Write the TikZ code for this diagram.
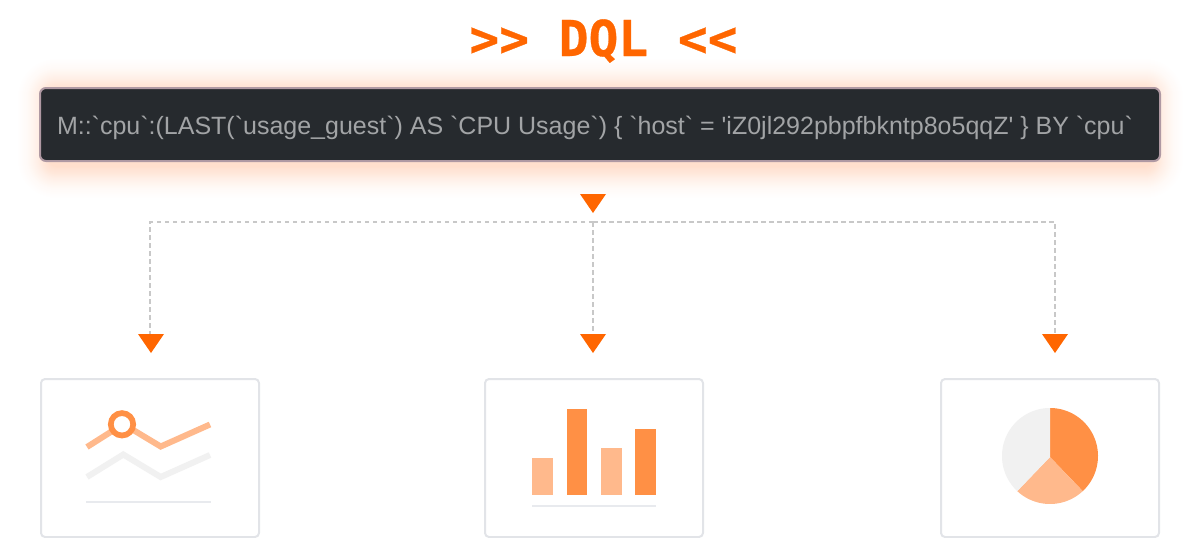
\documentclass[tikz,border=0pt]{standalone}
\usepackage{fontspec}
\newfontfamily\codefont{Liberation Sans}
\newfontfamily\titlefont{DejaVu Sans Mono Bold}[FakeBold=0.6]
\definecolor{accent}{HTML}{FF6600}
\definecolor{glowc}{HTML}{FF7A30}
\definecolor{darkbox}{HTML}{262A2E}
\definecolor{boxedge}{HTML}{AF99A3}
\definecolor{codetext}{HTML}{A2A4A6}
\definecolor{cardedge}{HTML}{E2E4E8}
\definecolor{peach}{HTML}{FFB98C}
\definecolor{strong}{HTML}{FF9045}
\definecolor{pale}{HTML}{F1F1F1}
\definecolor{axisc}{HTML}{E8EAEE}
\definecolor{dashc}{HTML}{C8C8C8}
\tikzset{
  x=1pt,y=-1pt,
  codebox/.style={draw=boxedge,fill=darkbox,line width=2pt,rounded corners=6pt,anchor=north west,
    minimum width=1120pt,minimum height=73pt,inner sep=0pt,outer sep=0pt},
  card/.style={draw=cardedge,fill=white,line width=2pt,rounded corners=4pt,anchor=north west,
    minimum width=218pt,minimum height=158pt,inner sep=0pt,outer sep=0pt},
  link/.style={draw=dashc,line width=2.3pt,dash pattern=on 4.5pt off 3.5pt},
  tip/.style={fill=accent},
  pt/.style={inner sep=0pt,outer sep=0pt,minimum size=0pt},
}
\begin{document}
\begin{tikzpicture}
\useasboundingbox (0,0) rectangle (1200,538);
% glow
\foreach \i in {36,35,...,1}{
  \fill[glowc,opacity={0.0004*(37-\i)},rounded corners={(6+\i)*1pt}]
    ({50-\i},{91-\i}) rectangle ({1151+\i},{166+\i});
}
\node[pt,anchor=base,text=accent] (title) at (603.5,56)
  {\titlefont\fontsize{49.5pt}{50pt}\selectfont >{}> DQL <{}<};
\node[codebox] (code) at (40,88) {};
\node[pt,anchor=base west,text=codetext] (codeline) at (57,134)
  {\codefont\fontsize{25pt}{30pt}\selectfont M::`cpu`:(LAST(`usage\_guest`) AS `CPU Usage`) \{ `host` = 'iZ0jl292pbpfbkntp8o5qqZ' \} BY `cpu`};
\node[card] (c1) at (41,379) {};
\node[card] (c2) at (485,379) {};
\node[card] (c3) at (941,379) {};
% connectors
\coordinate (junction) at (593,222);
\coordinate (corner1) at (150,222);
\coordinate (corner3) at (1055,222);
\coordinate (end1) at (150,340);
\coordinate (end2) at (593,340);
\coordinate (end3) at (1055,340);
\draw[link] (junction) -- (corner1) -- (end1);
\draw[link] (junction) -- (corner3) -- (end3);
\draw[link] (junction) -- (end2);
% triangles
\fill[tip] (580,194) -- (606,194) -- (593,213) -- cycle;
\fill[tip] (138,334) -- (164,334) -- (151,353) -- cycle;
\fill[tip] (580,334) -- (606,334) -- (593,353) -- cycle;
\fill[tip] (1042,334) -- (1068,334) -- (1055,353) -- cycle;
% line chart
\draw[pale,line width=6pt] (87,477) -- (123.3,454.5) -- (160.7,477) -- (210,455);
\draw[peach,line width=6pt] (87,447) -- (123.3,424) -- (160.7,446.5) -- (210,424.5);
\draw[strong,fill=white,line width=5.7pt] (122,424.3) circle (11.2);
\draw[axisc,line width=2pt] (86,501.7) -- (210.5,501.7);
% bar chart
\fill[peach] (532,458) rectangle (552.7,494.7);
\fill[strong] (566.7,409.3) rectangle (587,494.7);
\fill[peach] (601,447.7) rectangle (621.7,494.7);
\fill[strong] (635.3,429.3) rectangle (656,494.7);
\draw[axisc,line width=2pt] (532,505.7) -- (656,505.7);
% pie chart
\fill[strong] (1050,457) -- plot[domain=90:-47,samples=50] ({1050+48*cos(\x)},{456-48*sin(\x)}) -- cycle;
\fill[peach] (1050,457) -- plot[domain=-47:-133,samples=40] ({1050+48*cos(\x)},{456-48*sin(\x)}) -- cycle;
\fill[pale] (1050,457) -- plot[domain=-133:-270,samples=50] ({1050+48*cos(\x)},{456-48*sin(\x)}) -- cycle;
\end{tikzpicture}
\end{document}
